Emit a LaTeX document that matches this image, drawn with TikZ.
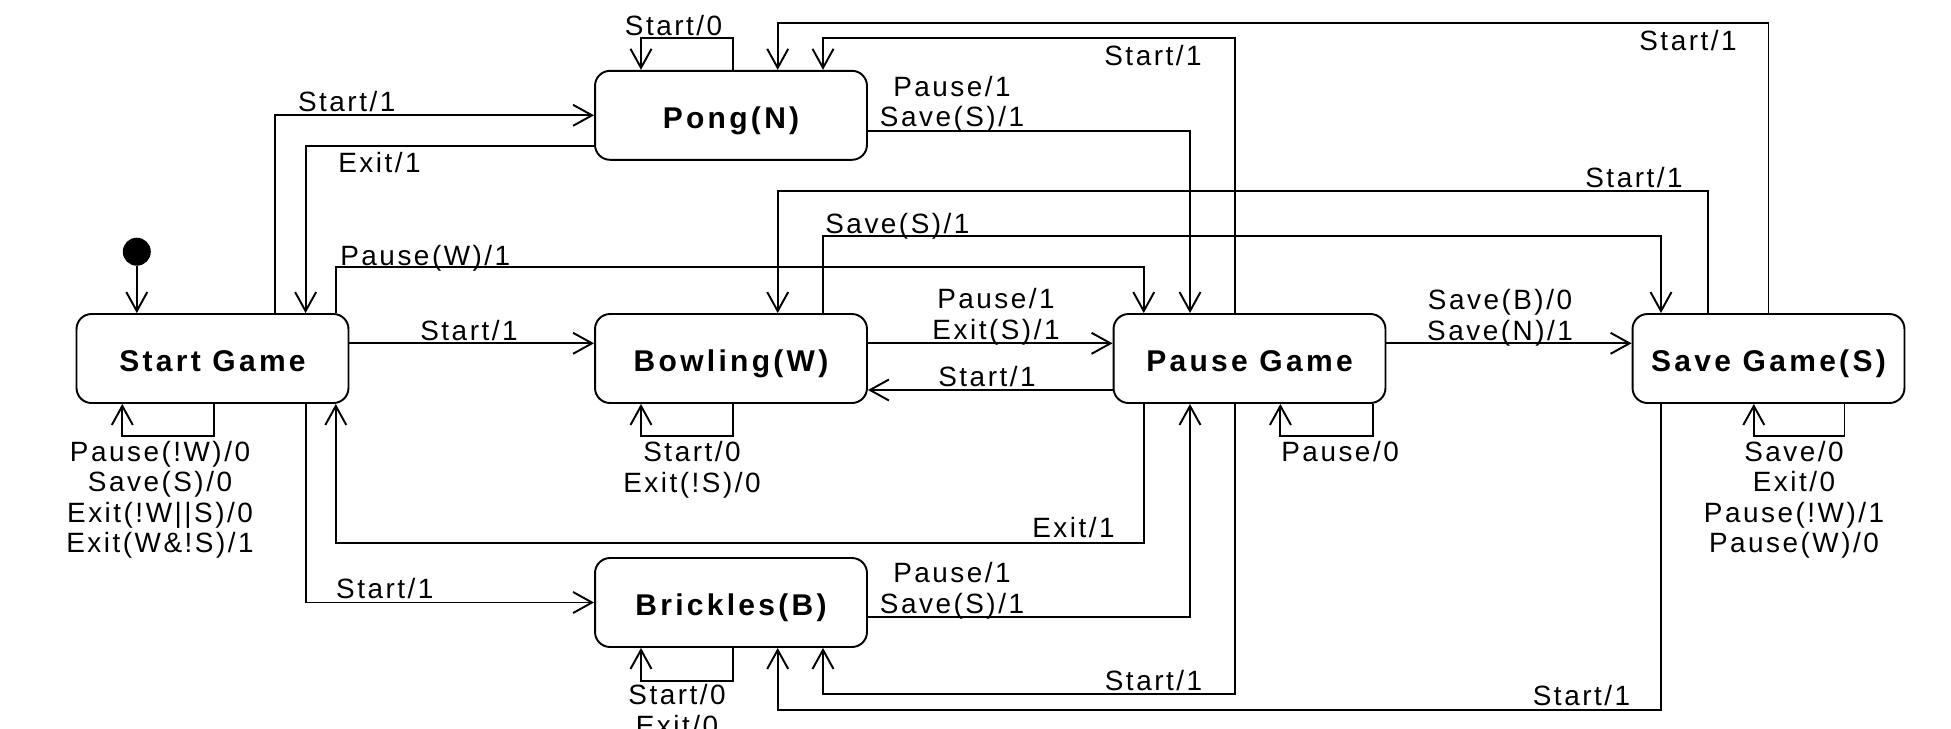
\documentclass[tikz,border=0pt]{standalone}
\usepackage{fontspec}
\setmainfont{Liberation Sans}
\newfontfamily\lblfont{Liberation Sans}[LetterSpace=9]
\newfontfamily\boxfont{Liberation Sans}[LetterSpace=11]
\usetikzlibrary{positioning, arrows.meta, calc}

\begin{document}
\begin{tikzpicture}[x=0.02cm, y=-0.02cm,
  box/.style={rectangle, rounded corners=0.3cm, draw, line width=1.1pt,
              minimum width=5.44cm, minimum height=1.78cm, inner sep=0pt,
              text height=0.62cm, text depth=0.092cm,
              font=\boxfont\bfseries\fontsize{17.07}{20}\selectfont},
  lbl/.style={inner sep=0pt, anchor=base west,
              font=\lblfont\fontsize{15.88}{17.37}\selectfont},
  lbls/.style={lbl, anchor=base, align=center},
  arr/.style={-{Straight Barb[length=0.38cm, width=0.42cm]}, line width=1.1pt}
]
  \useasboundingbox (0,0) rectangle (1951,728);
  \clip (0,0) rectangle (1951,728);

  % States
  \node[box] (start) at (212.5, 358.5)  {Start Game};
  \node[box] (pong)  at (731, 115.3)    {Pong(N)};
  \node[box] (bowl)  at (731, 358.5)    {Bowling(W)};
  \node[box] (brick) at (731, 602.5)    {Brickles(B)};
  \node[box] (pause) at (1249.5, 358.5) {Pause Game};
  \node[box] (save)  at (1768.5, 358.5) {Save Game(S)};

  % Initial state
  \node[circle, fill, inner sep=0pt, minimum size=0.56cm] (init) at (136.8, 251.7) {};
  \draw[arr] (init) -- (init |- start.north);

  % Start Game out (stacked labels: point = last baseline)
  \draw[arr] ($(start.north)+(62.4,0)$) |- (pong.west);
  \node[lbl] (lStartPong) at (297.7, 111.7) {Start/1};
  \draw[arr] ($(start.north)+(123.3,0)$) -- ++(0,-46.3) -| ($(pause.north)+(-105.75,0)$);
  \node[lbl] (lStartPause) at (340, 265) {Pause(W)/1};
  \draw[arr] ($(start.east)+(0,-15.2)$) -- ($(bowl.west)+(0,-15.2)$);
  \node[lbl] (lStartBowl) at (420, 340) {Start/1};
  \draw[arr] ($(start.south)+(93.1,0)$) |- (brick.west);
  \node[lbl] (lStartBrick) at (335.8, 598.3) {Start/1};
  \draw[arr] ($(start.south)+(1.8,0)$) -- ++(0,32.2) -| ($(start.south)+(-90.2,0)$);
  \node[lbls] (lStartLoop) at (160, 552.7) {Pause(!W)/0\\Save(S)/0\\Exit(!W||S)/0\\Exit(W\&!S)/1};

  % Pong out
  \draw[arr] ($(pong.west)+(0,30.4)$) -| ($(start.north)+(93.1,0)$);
  \node[lbl] (lPongStart) at (338, 172.7) {Exit/1};
  \draw[arr] ($(pong.east)+(0,15.4)$) -| ($(pause.north)+(-59.5,0)$);
  \node[lbls] (lPongPause) at (952, 126.7) {Pause/1\\Save(S)/1};
  \draw[arr] ($(pong.north)+(1.6,0)$) -- ++(0,-31.4) -| ($(pong.north)+(-90,0)$);
  \node[lbl] (lPongLoop) at (624.6, 35.7) {Start/0};

  % Bowling out
  \draw[arr] ($(bowl.east)+(0,-15.2)$) -- ($(pause.west)+(0,-15.2)$);
  \node[lbls] (lBowlPause) at (996, 339) {Pause/1\\Exit(S)/1};
  \draw[arr] ($(bowl.north)+(92,0)$) -- ++(0,-77.3) -| ($(save.north)+(-107.5,0)$);
  \node[lbl] (lBowlSave) at (825, 233) {Save(S)/1};
  \draw[arr] ($(bowl.south)+(1.6,0)$) -- ++(0,32.2) -| ($(bowl.south)+(-90,0)$);
  \node[lbls] (lBowlLoop) at (692, 492.3) {Start/0\\Exit(!S)/0};

  % Brickles out
  \draw[arr] ($(brick.east)+(0,14.8)$) -| ($(pause.south)+(-59.5,0)$);
  \node[lbls] (lBrickPause) at (952, 613.3) {Pause/1\\Save(S)/1};
  \draw[arr] ($(brick.south)+(1.6,0)$) -- ++(0,32.6) -| ($(brick.south)+(-90,0)$);
  \node[lbls] (lBrickLoop) at (677, 735.5) {Start/0\\Exit/0};

  % Pause Game out
  \draw[arr] ($(pause.north)+(-14.7,0)$) -- ++(0,-274.7) -| ($(pong.north)+(92,0)$);
  \node[lbl] (lPausePong) at (1104, 65.7) {Start/1};
  \draw[arr] ($(pause.west)+(0,31.5)$) -- ($(bowl.east)+(0,31.5)$);
  \node[lbl] (lPauseBowl) at (938, 386) {Start/1};
  \draw[arr] ($(pause.east)+(0,-15.2)$) -- ($(save.west)+(0,-15.2)$);
  \node[lbls] (lPauseSave) at (1500, 340) {Save(B)/0\\Save(N)/1};
  \draw[arr] ($(pause.south)+(-105.75,0)$) -- ++(0,139.3) -| ($(start.south)+(123.3,0)$);
  \node[lbl] (lPauseStart) at (1032, 537.3) {Exit/1};
  \draw[arr] ($(pause.south)+(-14.7,0)$) -- ++(0,290.3) -| ($(brick.south)+(92,0)$);
  \node[lbl] (lPauseBrick) at (1104.5, 690) {Start/1};
  \draw[arr] ($(pause.south)+(123.5,0)$) -- ++(0,32.2) -| ($(pause.south)+(30.9,0)$);
  \node[lbl] (lPauseLoop) at (1281, 461) {Pause/0};

  % Save Game out
  \draw[arr] (save.north) -- ++(0,-290) -| ($(pong.north)+(46.7,0)$);
  \node[lbl] (lSavePong) at (1639, 50.7) {Start/1};
  \draw[arr] ($(save.north)+(-60.5,0)$) -- ++(0,-122.3) -| ($(bowl.north)+(46.7,0)$);
  \node[lbl] (lSaveBowl) at (1585, 187.3) {Start/1};
  \draw[arr] ($(save.south)+(-107.5,0)$) -- ++(0,306.3) -| ($(brick.south)+(46.7,0)$);
  \node[lbl] (lSaveBrick) at (1532.5, 705) {Start/1};
  \draw[arr] ($(save.south)+(76,0)$) -- ++(0,32.2) -| ($(save.south)+(-14.7,0)$);
  \node[lbls] (lSaveLoop) at (1794, 552.7) {Save/0\\Exit/0\\Pause(!W)/1\\Pause(W)/0};
\end{tikzpicture}
\end{document}
